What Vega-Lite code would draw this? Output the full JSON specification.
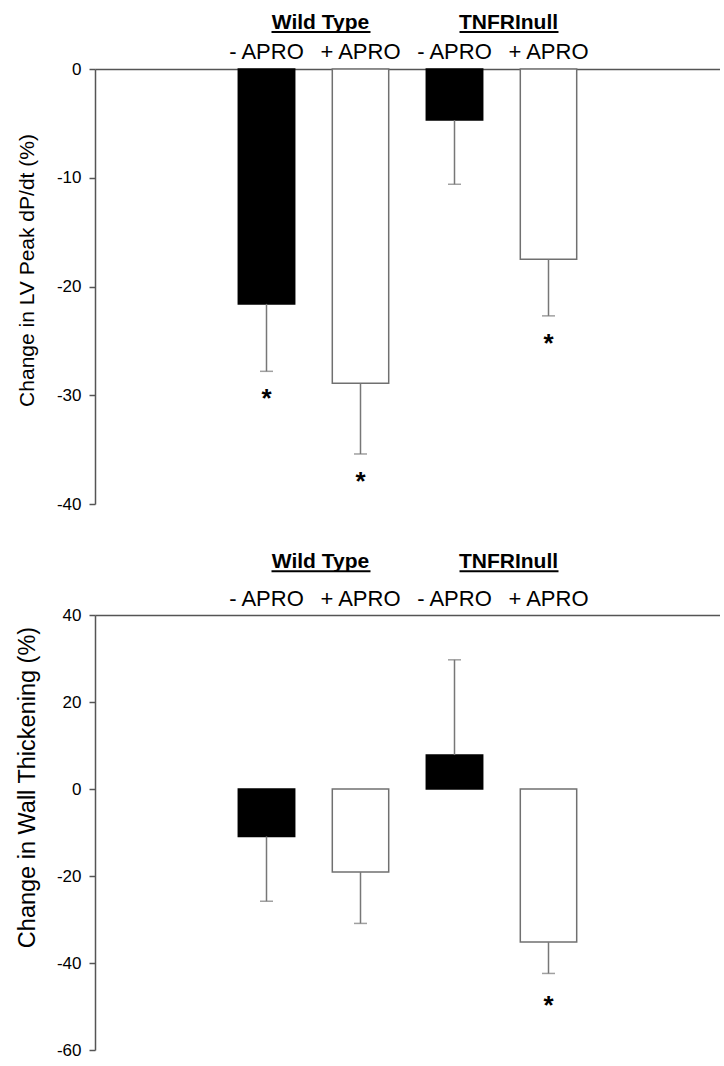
{
  "$schema": "https://vega.github.io/schema/vega-lite/v6.json",
  "padding": {"left": 15, "top": 0, "right": 0, "bottom": 0},
  "bounds": "flush",
  "spacing": 0,
  "config": {"font": "Liberation Sans", "view": {"stroke": null}},
  "datasets": {
    "lv": [
      {"cond": "WT-", "drug": "-", "mean": -21.6, "err": -27.8, "sig": "*"},
      {"cond": "WT+", "drug": "+", "mean": -28.9, "err": -35.4, "sig": "*"},
      {"cond": "TN-", "drug": "-", "mean": -4.7, "err": -10.6, "sig": ""},
      {"cond": "TN+", "drug": "+", "mean": -17.5, "err": -22.7, "sig": "*"}
    ],
    "wt": [
      {"cond": "WT-", "drug": "-", "mean": -10.9, "err": -25.8, "sig": ""},
      {"cond": "WT+", "drug": "+", "mean": -19.1, "err": -30.9, "sig": ""},
      {"cond": "TN-", "drug": "-", "mean": 7.8, "err": 29.7, "sig": ""},
      {"cond": "TN+", "drug": "+", "mean": -35.2, "err": -42.4, "sig": "*"}
    ],
    "sub": [
      {"cond": "WT-", "label": "- APRO", "row": "sub"},
      {"cond": "WT+", "label": "+ APRO", "row": "sub"},
      {"cond": "TN-", "label": "- APRO", "row": "sub"},
      {"cond": "TN+", "label": "+ APRO", "row": "sub"}
    ],
    "grp": [
      {"cond": "WT-", "cond2": "WT+", "label": "Wild Type", "row": "group"},
      {"cond": "TN-", "cond2": "TN+", "label": "TNFRInull", "row": "group"}
    ]
  },
  "vconcat": [
    {
      "width": 625, "height": 69,
      "layer": [
        {"data": {"name": "grp"},
         "mark": {"type": "text", "fontWeight": "bold", "fontSize": 21, "dx": 54, "baseline": "middle", "color": "black"},
         "encoding": {
           "x": {"field": "cond", "type": "nominal", "scale": {"type": "band", "domain": ["L", "WT-", "WT+", "TN-", "TN+", "R"], "paddingInner": 0.4, "paddingOuter": 0.5245, "align": 0.5}, "axis": null},
           "y": {"field": "row", "type": "nominal", "scale": {"type": "point", "domain": ["group", "sub"], "padding": 0.69, "align": 0.575}, "axis": null},
           "text": {"field": "label"}}},
        {"data": {"name": "grp"},
         "mark": {"type": "rule", "strokeWidth": 2, "color": "black", "xOffset": 5, "x2Offset": 10, "yOffset": 9},
         "encoding": {
           "x": {"field": "cond", "type": "nominal"},
           "x2": {"field": "cond2"},
           "y": {"field": "row", "type": "nominal"}}},
        {"data": {"name": "sub"},
         "mark": {"type": "text", "fontSize": 22, "baseline": "middle", "color": "black"},
         "encoding": {
           "x": {"field": "cond", "type": "nominal"},
           "y": {"field": "row", "type": "nominal"},
           "text": {"field": "label"}}}
      ]
    },
    {
      "width": 625, "height": 435,
      "data": {"name": "lv"},
      "encoding": {
        "x": {"field": "cond", "type": "nominal", "scale": {"type": "band", "domain": ["L", "WT-", "WT+", "TN-", "TN+", "R"], "paddingInner": 0.4, "paddingOuter": 0.5245, "align": 0.5},
              "axis": {"orient": "top", "labels": false, "ticks": false, "domain": true, "domainColor": "#555", "domainWidth": 1.5, "title": null}}
      },
      "layer": [
        {"mark": {"type": "bar", "strokeWidth": 1.5},
         "encoding": {
           "y": {"field": "mean", "type": "quantitative", "scale": {"domain": [-40, 0], "nice": false},
                 "axis": {"title": "Change in LV Peak dP/dt (%)", "values": [0, -10, -20, -30, -40], "labelExpr": "'' + datum.value", "grid": false, "tickSize": 6, "tickColor": "#555", "tickWidth": 1.5, "domainColor": "#555", "domainWidth": 1.5, "labelFontSize": 17, "labelColor": "black", "labelPadding": 8, "labelFlush": false, "labelOverlap": false, "titleFontSize": 21, "titleFontWeight": "normal", "titleColor": "black", "titlePadding": 19, "titleY": 201}},
           "fill": {"field": "drug", "type": "nominal", "scale": {"domain": ["-", "+"], "range": ["#000000", "#ffffff"]}, "legend": null},
           "stroke": {"field": "drug", "type": "nominal", "scale": {"domain": ["-", "+"], "range": ["#000000", "#707070"]}, "legend": null}}},
        {"mark": {"type": "rule", "color": "#777", "strokeWidth": 1.5},
         "encoding": {"y": {"field": "mean", "type": "quantitative"}, "y2": {"field": "err"}}},
        {"mark": {"type": "tick", "color": "#777", "size": 13, "thickness": 1.5},
         "encoding": {"y": {"field": "err", "type": "quantitative"}}},
        {"mark": {"type": "text", "fontSize": 26, "fontWeight": "bold", "baseline": "alphabetic", "dy": 36, "color": "black"},
         "encoding": {"y": {"field": "err", "type": "quantitative"}, "text": {"field": "sig"}}},
        {"mark": {"type": "rule", "color": "#555", "strokeWidth": 1.5},
         "encoding": {"y": {"datum": 0}}}
      ]
    },
    {
      "width": 625, "height": 111,
      "layer": [
        {"data": {"name": "grp"},
         "mark": {"type": "text", "fontWeight": "bold", "fontSize": 21, "dx": 54, "baseline": "middle", "color": "black"},
         "encoding": {
           "x": {"field": "cond", "type": "nominal", "scale": {"type": "band", "domain": ["L", "WT-", "WT+", "TN-", "TN+", "R"], "paddingInner": 0.4, "paddingOuter": 0.5245, "align": 0.5}, "axis": null},
           "y": {"field": "row", "type": "nominal", "scale": {"type": "point", "domain": ["group", "sub"], "padding": 1.29, "align": 0.7875}, "axis": null},
           "text": {"field": "label"}}},
        {"data": {"name": "grp"},
         "mark": {"type": "rule", "strokeWidth": 2, "color": "black", "xOffset": 5, "x2Offset": 10, "yOffset": 9},
         "encoding": {
           "x": {"field": "cond", "type": "nominal"},
           "x2": {"field": "cond2"},
           "y": {"field": "row", "type": "nominal"}}},
        {"data": {"name": "sub"},
         "mark": {"type": "text", "fontSize": 22, "baseline": "middle", "color": "black"},
         "encoding": {
           "x": {"field": "cond", "type": "nominal"},
           "y": {"field": "row", "type": "nominal"},
           "text": {"field": "label"}}}
      ]
    },
    {
      "width": 625, "height": 435,
      "data": {"name": "wt"},
      "encoding": {
        "x": {"field": "cond", "type": "nominal", "scale": {"type": "band", "domain": ["L", "WT-", "WT+", "TN-", "TN+", "R"], "paddingInner": 0.4, "paddingOuter": 0.5245, "align": 0.5},
              "axis": {"orient": "top", "labels": false, "ticks": false, "domain": true, "domainColor": "#555", "domainWidth": 1.5, "title": null}}
      },
      "layer": [
        {"mark": {"type": "bar", "strokeWidth": 1.5},
         "encoding": {
           "y": {"field": "mean", "type": "quantitative", "scale": {"domain": [-60, 40], "nice": false},
                 "axis": {"title": "Change in Wall Thickening (%)", "values": [40, 20, 0, -20, -40, -60], "labelExpr": "'' + datum.value", "grid": false, "tickSize": 6, "tickColor": "#555", "tickWidth": 1.5, "domainColor": "#555", "domainWidth": 1.5, "labelFontSize": 17, "labelColor": "black", "labelPadding": 8, "labelFlush": false, "labelOverlap": false, "titleFontSize": 23.5, "titleFontWeight": "normal", "titleColor": "black", "titlePadding": 17, "titleY": 172}},
           "fill": {"field": "drug", "type": "nominal", "scale": {"domain": ["-", "+"], "range": ["#000000", "#ffffff"]}, "legend": null},
           "stroke": {"field": "drug", "type": "nominal", "scale": {"domain": ["-", "+"], "range": ["#000000", "#707070"]}, "legend": null}}},
        {"mark": {"type": "rule", "color": "#777", "strokeWidth": 1.5},
         "encoding": {"y": {"field": "mean", "type": "quantitative"}, "y2": {"field": "err"}}},
        {"mark": {"type": "tick", "color": "#777", "size": 13, "thickness": 1.5},
         "encoding": {"y": {"field": "err", "type": "quantitative"}}},
        {"mark": {"type": "text", "fontSize": 26, "fontWeight": "bold", "baseline": "alphabetic", "dy": 41, "color": "black"},
         "encoding": {"y": {"field": "err", "type": "quantitative"}, "text": {"field": "sig"}}},
        {"mark": {"type": "rule", "color": "#555", "strokeWidth": 1.5},
         "encoding": {"y": {"datum": 0}}}
      ]
    }
  ]
}
